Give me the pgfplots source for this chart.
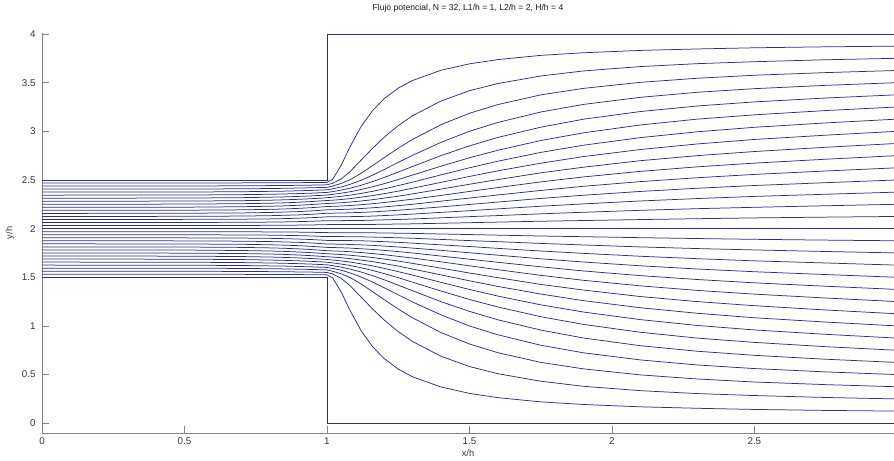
\documentclass[border=0pt]{standalone}
\usepackage{fontspec}
\setmainfont{Liberation Sans}
\usepackage{pgfplots}
\usepackage{pgfplotstable}
\pgfplotsset{compat=1.18}
\definecolor{stream}{RGB}{45,45,135}
\definecolor{axgray}{RGB}{130,130,130}
% upper-half streamlines (psi = 0.5 + j/32, j = 1..15); the flow is symmetric about y/h = 2
\pgfplotstableread{
x c1 c2 c3 c4 c5 c6 c7 c8 c9 c10 c11 c12 c13 c14 c15
0 2.031 2.062 2.094 2.125 2.156 2.188 2.219 2.250 2.281 2.312 2.344 2.375 2.406 2.438 2.469
0.5 2.032 2.063 2.095 2.126 2.158 2.189 2.220 2.252 2.283 2.314 2.345 2.376 2.407 2.438 2.469
0.7 2.032 2.065 2.097 2.129 2.161 2.193 2.225 2.256 2.287 2.318 2.349 2.379 2.409 2.440 2.470
0.8 2.034 2.067 2.100 2.133 2.166 2.198 2.230 2.261 2.292 2.323 2.353 2.383 2.412 2.442 2.471
0.85 2.035 2.069 2.103 2.137 2.170 2.202 2.234 2.265 2.296 2.326 2.356 2.385 2.414 2.443 2.472
0.9 2.036 2.072 2.107 2.141 2.175 2.208 2.240 2.271 2.301 2.331 2.360 2.389 2.417 2.445 2.472
0.95 2.038 2.076 2.113 2.148 2.183 2.216 2.248 2.279 2.308 2.337 2.365 2.393 2.420 2.447 2.474
1.0 2.041 2.082 2.121 2.158 2.193 2.227 2.258 2.289 2.317 2.345 2.372 2.399 2.424 2.450 2.475
1.02 2.042 2.082 2.122 2.159 2.194 2.229 2.261 2.292 2.323 2.352 2.380 2.409 2.438 2.466 2.507
1.05 2.042 2.082 2.122 2.160 2.197 2.232 2.266 2.299 2.332 2.364 2.396 2.428 2.464 2.511 2.651
1.08 2.042 2.083 2.123 2.163 2.200 2.237 2.273 2.308 2.343 2.378 2.415 2.454 2.501 2.583 2.835
1.12 2.042 2.084 2.125 2.167 2.207 2.246 2.284 2.323 2.362 2.402 2.446 2.497 2.569 2.704 3.050
1.16 2.043 2.087 2.129 2.172 2.214 2.256 2.297 2.339 2.383 2.430 2.483 2.549 2.647 2.825 3.212
1.2 2.045 2.090 2.134 2.179 2.223 2.268 2.313 2.359 2.408 2.461 2.525 2.606 2.728 2.937 3.333
1.25 2.047 2.094 2.141 2.189 2.236 2.285 2.333 2.385 2.442 2.504 2.581 2.680 2.826 3.058 3.443
1.3 2.049 2.099 2.149 2.200 2.250 2.302 2.357 2.415 2.477 2.550 2.638 2.753 2.916 3.159 3.522
1.4 2.055 2.111 2.167 2.223 2.282 2.341 2.406 2.475 2.552 2.641 2.750 2.886 3.068 3.311 3.627
1.5 2.061 2.123 2.184 2.248 2.314 2.382 2.456 2.536 2.625 2.728 2.850 3.000 3.185 3.417 3.693
1.6 2.067 2.134 2.203 2.273 2.346 2.422 2.504 2.594 2.693 2.805 2.937 3.091 3.275 3.491 3.737
1.75 2.076 2.152 2.230 2.310 2.392 2.480 2.573 2.672 2.783 2.905 3.042 3.198 3.374 3.568 3.780
1.9 2.083 2.168 2.254 2.343 2.435 2.531 2.631 2.740 2.857 2.984 3.124 3.276 3.441 3.620 3.807
2.1 2.093 2.188 2.284 2.382 2.483 2.588 2.698 2.813 2.935 3.065 3.203 3.349 3.503 3.665 3.831
2.3 2.102 2.205 2.309 2.415 2.523 2.635 2.750 2.870 2.995 3.125 3.260 3.401 3.545 3.695 3.846
2.5 2.110 2.219 2.331 2.443 2.557 2.673 2.792 2.916 3.041 3.169 3.302 3.438 3.576 3.715 3.858
2.75 2.118 2.235 2.353 2.472 2.592 2.713 2.836 2.960 3.086 3.213 3.342 3.472 3.603 3.735 3.868
3.0 2.125 2.250 2.375 2.500 2.625 2.750 2.875 3.000 3.125 3.250 3.375 3.500 3.625 3.750 3.875
}\flow
\begin{document}
\begin{tikzpicture}
\begin{axis}[
  scale only axis, width=852pt, height=400pt,
  xmin=0, xmax=2.99, ymin=-0.1, ymax=4.01,
  axis x line=bottom, axis y line=left,
  axis line style={-, draw=axgray, line width=0.8pt},
  xtick={0,0.5,1,1.5,2,2.5}, ytick={0,0.5,1,1.5,2,2.5,3,3.5,4},
  tick align=inside, major tick length=7pt,
  tick style={draw=axgray, line width=0.8pt},
  /pgf/number format/assume math mode=true,
  tick label style={font=\fontsize{9.8}{11}\selectfont, text=black!80},
  yticklabel style={xshift=-3pt},
  xticklabel style={yshift=-1pt},
  xlabel={x/h}, ylabel={y/h},
  label style={font=\fontsize{9.2}{11}\selectfont, text=black!80},
  xlabel style={at={(axis description cs:0.5,0)}, anchor=center, yshift=-20pt},
  ylabel style={at={(axis description cs:0,0.5)}, anchor=center, yshift=32pt},
  title={Flujo potencial, N = 32, L1/h = 1, L2/h = 2, H/h = 4},
  title style={font=\fontsize{8.6}{10}\selectfont, text=black!90, at={(axis description cs:0.5,1)}, anchor=center, yshift=19pt},
  mystream/.style={draw=stream, line width=0.75pt, mark=none},
]
% walls (psi = 0 and psi = 1)
\addplot[mystream] coordinates {(0,2.5) (1,2.5) (1,4) (3,4)};
\addplot[mystream] coordinates {(0,1.5) (1,1.5) (1,0) (3,0)};
% centre streamline
\addplot[mystream] coordinates {(0,2) (3,2)};
\pgfplotsinvokeforeach{1,...,15}{
  \addplot[mystream] table[x=x, y=c#1] {\flow};
  \addplot[mystream] table[x=x, y expr=4-\thisrow{c#1}] {\flow};
}
\end{axis}
\path (current axis.south west) ++(-42pt,-27.7pt) coordinate (BL);
\path (current axis.north east) ++(0pt,33pt) coordinate (TR);
\pgfresetboundingbox
\path[use as bounding box] (BL) rectangle (TR);
\end{tikzpicture}
\end{document}
